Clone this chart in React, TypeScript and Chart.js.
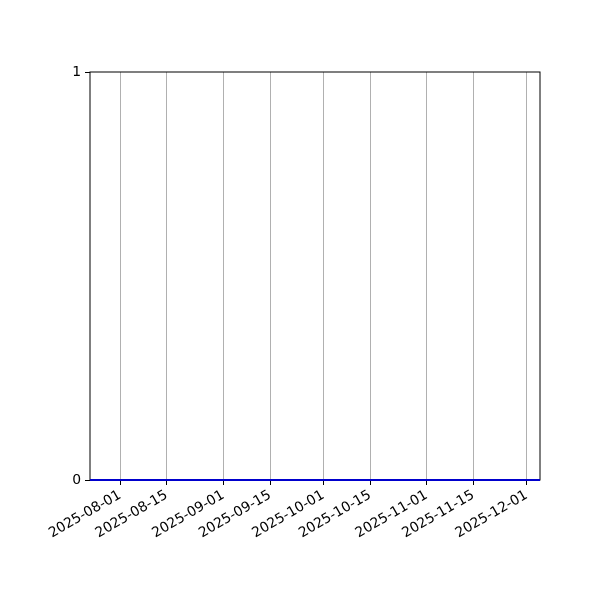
import { useEffect, useRef } from "react";

import { Chart, registerables } from "chart.js";

Chart.register(...registerables);

const DAY = 86400000;

// series: zero values across the visible range
const startDate = "2025-07-23";
const endDate = "2025-12-05";
const seriesValues = [0, 0];
const seriesDates = [startDate, endDate];

const xTickLabels = [
  "2025-08-01",
  "2025-08-15",
  "2025-09-01",
  "2025-09-15",
  "2025-10-01",
  "2025-10-15",
  "2025-11-01",
  "2025-11-15",
  "2025-12-01",
];
const yTickValues = [0, 1];

const toDay = (s: string) => Date.parse(s + "T00:00:00Z") / DAY;
const fmt = (d: number) => new Date(Math.round(d) * DAY).toISOString().slice(0, 10);

const font = { family: "'DejaVu Sans', sans-serif", size: 13.9 };

// box around the plot, drawn under the data line
const frame = {
  id: "frame",
  beforeDatasetsDraw(chart: Chart) {
    const { ctx, chartArea } = chart;
    ctx.save();
    ctx.strokeStyle = "#000";
    ctx.lineWidth = 1;
    ctx.strokeRect(chartArea.left, chartArea.top, chartArea.right - chartArea.left, chartArea.bottom - chartArea.top);
    ctx.restore();
  },
};

export default function App() {
  const chartRef = useRef<HTMLCanvasElement>(null);

  useEffect(() => {
    if (!chartRef.current) return;
    document.body.style.margin = "0";

    const chart = new Chart(chartRef.current, {
      type: "line",
      data: {
        datasets: [
          {
            data: seriesDates.map((d, i) => ({ x: toDay(d), y: seriesValues[i] })),
            borderColor: "#0000cd",
            borderWidth: 2,
            pointRadius: 0,
            clip: false,
          },
        ],
      },
      plugins: [frame],
      options: {
        animation: false,
        responsive: false,
        devicePixelRatio: 1,
        layout: { autoPadding: false, padding: { left: 0, top: 72, right: 60, bottom: 0 } },
        plugins: { legend: { display: false }, tooltip: { enabled: false } },
        scales: {
          x: {
            type: "linear",
            min: toDay(startDate),
            max: toDay(endDate),
            afterBuildTicks: (scale: any) => {
              scale.ticks = xTickLabels.map((t) => ({ value: toDay(t) }));
            },
            afterFit: (scale: any) => {
              scale.height = 120;
            },
            ticks: {
              callback: (v: any) => fmt(Number(v)),
              minRotation: 30,
              maxRotation: 30,
              color: "#000",
              font,
              padding: 2,
              autoSkip: false,
            },
            grid: { color: "#b0b0b0", lineWidth: 1, tickColor: "#000", tickLength: 5 },
            border: { display: false },
          },
          y: {
            min: 0,
            max: 1,
            afterBuildTicks: (scale: any) => {
              scale.ticks = yTickValues.map((v) => ({ value: v }));
            },
            afterFit: (scale: any) => {
              scale.width = 90;
            },
            ticks: { color: "#000", font, padding: 4 },
            grid: { drawOnChartArea: false, tickColor: "#000", tickLength: 5 },
            border: { display: false },
          },
        },
      },
    });

    return () => {
      chart.destroy();
    };
  }, []);

  return (
    <div style={{ width: 600, height: 600, background: "#fff" }}>
      <canvas ref={chartRef} width={600} height={600} />
    </div>
  );
}
